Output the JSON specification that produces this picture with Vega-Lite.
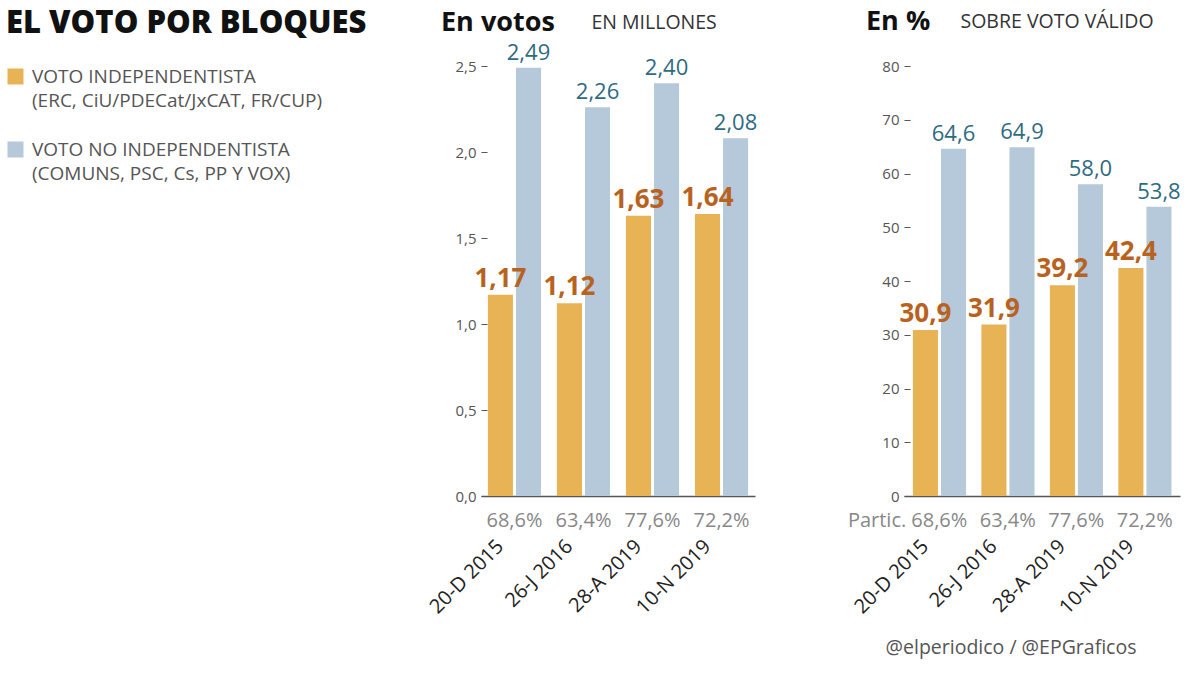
{
  "$schema": "https://vega.github.io/schema/vega-lite/v6.json",
  "background": "white",
  "padding": {"left": 6, "top": 8, "right": 5, "bottom": 5},
  "bounds": "flush",
  "spacing": 149,
  "config": {
    "locale": {"number": {"decimal": ",", "thousands": ".", "grouping": [3], "currency": ["", " €"]}},
    "view": {"stroke": null},
    "font": "Open Sans"
  },
  "data": {"values": [
    {"fecha": "20-D 2015", "bloque": "VOTO INDEPENDENTISTA", "millones": 1.17, "pct": 30.9, "partic": 0.686},
    {"fecha": "20-D 2015", "bloque": "VOTO NO INDEPENDENTISTA", "millones": 2.49, "pct": 64.6, "partic": 0.686},
    {"fecha": "26-J 2016", "bloque": "VOTO INDEPENDENTISTA", "millones": 1.12, "pct": 31.9, "partic": 0.634},
    {"fecha": "26-J 2016", "bloque": "VOTO NO INDEPENDENTISTA", "millones": 2.26, "pct": 64.9, "partic": 0.634},
    {"fecha": "28-A 2019", "bloque": "VOTO INDEPENDENTISTA", "millones": 1.63, "pct": 39.2, "partic": 0.776},
    {"fecha": "28-A 2019", "bloque": "VOTO NO INDEPENDENTISTA", "millones": 2.40, "pct": 58.0, "partic": 0.776},
    {"fecha": "10-N 2019", "bloque": "VOTO INDEPENDENTISTA", "millones": 1.64, "pct": 42.4, "partic": 0.722},
    {"fecha": "10-N 2019", "bloque": "VOTO NO INDEPENDENTISTA", "millones": 2.08, "pct": 53.8, "partic": 0.722}
  ]},
  "hconcat": [
    {
      "width": 274,
      "height": 430,
      "title": {"text": "En votos", "anchor": "start", "frame": "group", "dx": -40, "offset": -25, "fontSize": 27, "font": "Open Sans", "fontWeight": "bold", "color": "#111111"},
      "encoding": {
        "x": {"field": "fecha", "type": "nominal", "sort": ["20-D 2015", "26-J 2016", "28-A 2019", "10-N 2019"],
          "scale": {"paddingInner": 0.23, "paddingOuter": 0.1},
          "axis": {"title": null, "labelAngle": -45, "labelAlign": "right", "labelBaseline": "middle", "labelFontSize": 20, "labelFont": "Open Sans", "labelColor": "#222222", "labelPadding": 47, "labelOffset": -14, "ticks": false, "domainColor": "#555555", "domainWidth": 1.5}}
      },
      "layer": [
        {
          "mark": {"type": "bar"},
          "encoding": {
            "xOffset": {"field": "bloque", "type": "nominal", "sort": ["VOTO INDEPENDENTISTA", "VOTO NO INDEPENDENTISTA"], "scale": {"paddingInner": 0.107}},
            "y": {"field": "millones", "type": "quantitative", "scale": {"domain": [0, 2.5], "nice": false},
              "axis": {"values": [0, 0.5, 1, 1.5, 2, 2.5], "format": ".1f", "grid": false, "domain": false, "tickSize": 6, "offset": -6, "tickColor": "#555555", "labelPadding": 5, "labelFontSize": 15, "labelFont": "Open Sans", "labelColor": "#555555",
                "title": "EN MILLONES", "titleAngle": 0, "titleAlign": "left", "titleBaseline": "alphabetic", "titleX": 104, "titleY": -38, "titleFontSize": 19.5, "titleFont": "Open Sans", "titleFontWeight": "normal", "titleColor": "#333333"}},
            "color": {"field": "bloque", "type": "nominal",
              "scale": {"domain": ["VOTO INDEPENDENTISTA", "VOTO NO INDEPENDENTISTA"], "range": ["#e8b354", "#b6c9da"]},
              "legend": {"orient": "none", "legendX": -475, "legendY": -57, "direction": "vertical",
                "title": "EL VOTO POR BLOQUES", "titleFontSize": 31, "titleFont": "Open Sans", "titleFontWeight": 800, "titleColor": "#111111", "titleLimit": 0, "titlePadding": 27,
                "labelFontSize": 19, "labelFont": "Open Sans", "labelColor": "#555555", "labelLimit": 0, "labelOffset": 7, "labelBaseline": "middle",
                "labelExpr": "datum.label == 'VOTO INDEPENDENTISTA' ? ['VOTO INDEPENDENTISTA', '(ERC, CiU/PDECat/JxCAT, FR/CUP)'] : ['VOTO NO INDEPENDENTISTA', '(COMUNS, PSC, Cs, PP Y VOX)']",
                "symbolType": "square", "symbolSize": 256, "symbolStrokeWidth": 0, "symbolOpacity": 1, "rowPadding": 29,
                "encode": {"labels": {"update": {"dy": {"value": 0}, "lineHeight": {"value": 24}}}}}}
          }
        },
        {
          "transform": [{"filter": "datum.bloque == 'VOTO INDEPENDENTISTA'"}],
          "mark": {"type": "text", "baseline": "bottom", "dy": -3, "fontSize": 26, "fontWeight": "bold", "font": "Open Sans", "color": "#b9621d"},
          "encoding": {
            "xOffset": {"field": "bloque", "type": "nominal", "sort": ["VOTO INDEPENDENTISTA", "VOTO NO INDEPENDENTISTA"]},
            "y": {"field": "millones", "type": "quantitative"},
            "text": {"field": "millones", "type": "quantitative", "format": ".2f"}
          }
        },
        {
          "transform": [{"filter": "datum.bloque == 'VOTO NO INDEPENDENTISTA'"}],
          "mark": {"type": "text", "baseline": "bottom", "dy": -3, "fontSize": 22, "font": "Open Sans", "color": "#2e6b82"},
          "encoding": {
            "xOffset": {"field": "bloque", "type": "nominal", "sort": ["VOTO INDEPENDENTISTA", "VOTO NO INDEPENDENTISTA"]},
            "y": {"field": "millones", "type": "quantitative"},
            "text": {"field": "millones", "type": "quantitative", "format": ".2f"}
          }
        },
        {
          "transform": [{"filter": "datum.bloque == 'VOTO INDEPENDENTISTA'"}],
          "mark": {"type": "text", "baseline": "top", "dy": 15, "fontSize": 20, "font": "Open Sans", "color": "#888888"},
          "encoding": {
            "y": {"datum": 0, "type": "quantitative"},
            "text": {"field": "partic", "type": "quantitative", "format": ".1%"}
          }
        }
      ]
    },
    {
      "width": 276,
      "height": 430,
      "title": {"text": "En %", "anchor": "start", "frame": "group", "dx": -38, "offset": -25, "fontSize": 27, "font": "Open Sans", "fontWeight": "bold", "color": "#111111"},
      "encoding": {
        "x": {"field": "fecha", "type": "nominal", "sort": ["20-D 2015", "26-J 2016", "28-A 2019", "10-N 2019"],
          "scale": {"paddingInner": 0.23, "paddingOuter": 0.13},
          "axis": {"title": "@elperiodico / @EPGraficos", "titleX": 232, "titleY": 157, "titleAlign": "right", "titleAnchor": null, "titleBaseline": "alphabetic", "titleFontSize": 19.5, "titleFont": "Open Sans", "titleFontWeight": "normal", "titleColor": "#555555",
            "labelAngle": -45, "labelAlign": "right", "labelBaseline": "middle", "labelFontSize": 20, "labelFont": "Open Sans", "labelColor": "#222222", "labelPadding": 47, "labelOffset": -14, "ticks": false, "domainColor": "#555555", "domainWidth": 1.5}}
      },
      "layer": [
        {
          "mark": {"type": "bar"},
          "encoding": {
            "xOffset": {"field": "bloque", "type": "nominal", "sort": ["VOTO INDEPENDENTISTA", "VOTO NO INDEPENDENTISTA"], "scale": {"paddingInner": 0.107}},
            "y": {"field": "pct", "type": "quantitative", "scale": {"domain": [0, 80], "nice": false},
              "axis": {"values": [0, 10, 20, 30, 40, 50, 60, 70, 80], "format": "d", "grid": false, "domain": false, "tickSize": 6, "offset": -6, "tickColor": "#555555", "labelPadding": 5, "labelFontSize": 15, "labelFont": "Open Sans", "labelColor": "#555555",
                "title": "SOBRE VOTO VÁLIDO", "titleAngle": 0, "titleAlign": "left", "titleBaseline": "alphabetic", "titleX": 50, "titleY": -39, "titleFontSize": 19.5, "titleFont": "Open Sans", "titleFontWeight": "normal", "titleColor": "#333333"}},
            "color": {"field": "bloque", "type": "nominal",
              "scale": {"domain": ["VOTO INDEPENDENTISTA", "VOTO NO INDEPENDENTISTA"], "range": ["#e8b354", "#b6c9da"]},
              "legend": {"orient": "none", "legendX": -475, "legendY": -57, "direction": "vertical",
                "title": "EL VOTO POR BLOQUES", "titleFontSize": 31, "titleFont": "Open Sans", "titleFontWeight": 800, "titleColor": "#111111", "titleLimit": 0, "titlePadding": 27,
                "labelFontSize": 19, "labelFont": "Open Sans", "labelColor": "#555555", "labelLimit": 0, "labelOffset": 7, "labelBaseline": "middle",
                "labelExpr": "datum.label == 'VOTO INDEPENDENTISTA' ? ['VOTO INDEPENDENTISTA', '(ERC, CiU/PDECat/JxCAT, FR/CUP)'] : ['VOTO NO INDEPENDENTISTA', '(COMUNS, PSC, Cs, PP Y VOX)']",
                "symbolType": "square", "symbolSize": 256, "symbolStrokeWidth": 0, "symbolOpacity": 1, "rowPadding": 29,
                "encode": {"labels": {"update": {"dy": {"value": 0}, "lineHeight": {"value": 24}}}}}}
          }
        },
        {
          "transform": [{"filter": "datum.bloque == 'VOTO INDEPENDENTISTA'"}],
          "mark": {"type": "text", "baseline": "bottom", "dy": -3, "fontSize": 26, "fontWeight": "bold", "font": "Open Sans", "color": "#b9621d"},
          "encoding": {
            "xOffset": {"field": "bloque", "type": "nominal", "sort": ["VOTO INDEPENDENTISTA", "VOTO NO INDEPENDENTISTA"]},
            "y": {"field": "pct", "type": "quantitative"},
            "text": {"field": "pct", "type": "quantitative", "format": ".1f"}
          }
        },
        {
          "transform": [{"filter": "datum.bloque == 'VOTO NO INDEPENDENTISTA'"}],
          "mark": {"type": "text", "baseline": "bottom", "dy": -3, "fontSize": 22, "font": "Open Sans", "color": "#2e6b82"},
          "encoding": {
            "xOffset": {"field": "bloque", "type": "nominal", "sort": ["VOTO INDEPENDENTISTA", "VOTO NO INDEPENDENTISTA"]},
            "y": {"field": "pct", "type": "quantitative"},
            "text": {"field": "pct", "type": "quantitative", "format": ".1f"}
          }
        },
        {
          "transform": [{"filter": "datum.bloque == 'VOTO INDEPENDENTISTA'"}],
          "mark": {"type": "text", "baseline": "top", "dy": 15, "fontSize": 20, "font": "Open Sans", "color": "#888888"},
          "encoding": {
            "y": {"datum": 0, "type": "quantitative"},
            "text": {"field": "partic", "type": "quantitative", "format": ".1%"}
          }
        },
        {
          "transform": [{"filter": "datum.fecha == '20-D 2015' && datum.bloque == 'VOTO INDEPENDENTISTA'"}],
          "mark": {"type": "text", "baseline": "top", "align": "right", "dy": 15, "dx": -33, "fontSize": 20, "font": "Open Sans", "color": "#888888", "text": "Partic."},
          "encoding": {
            "y": {"datum": 0, "type": "quantitative"}
          }
        }
      ]
    }
  ]
}
